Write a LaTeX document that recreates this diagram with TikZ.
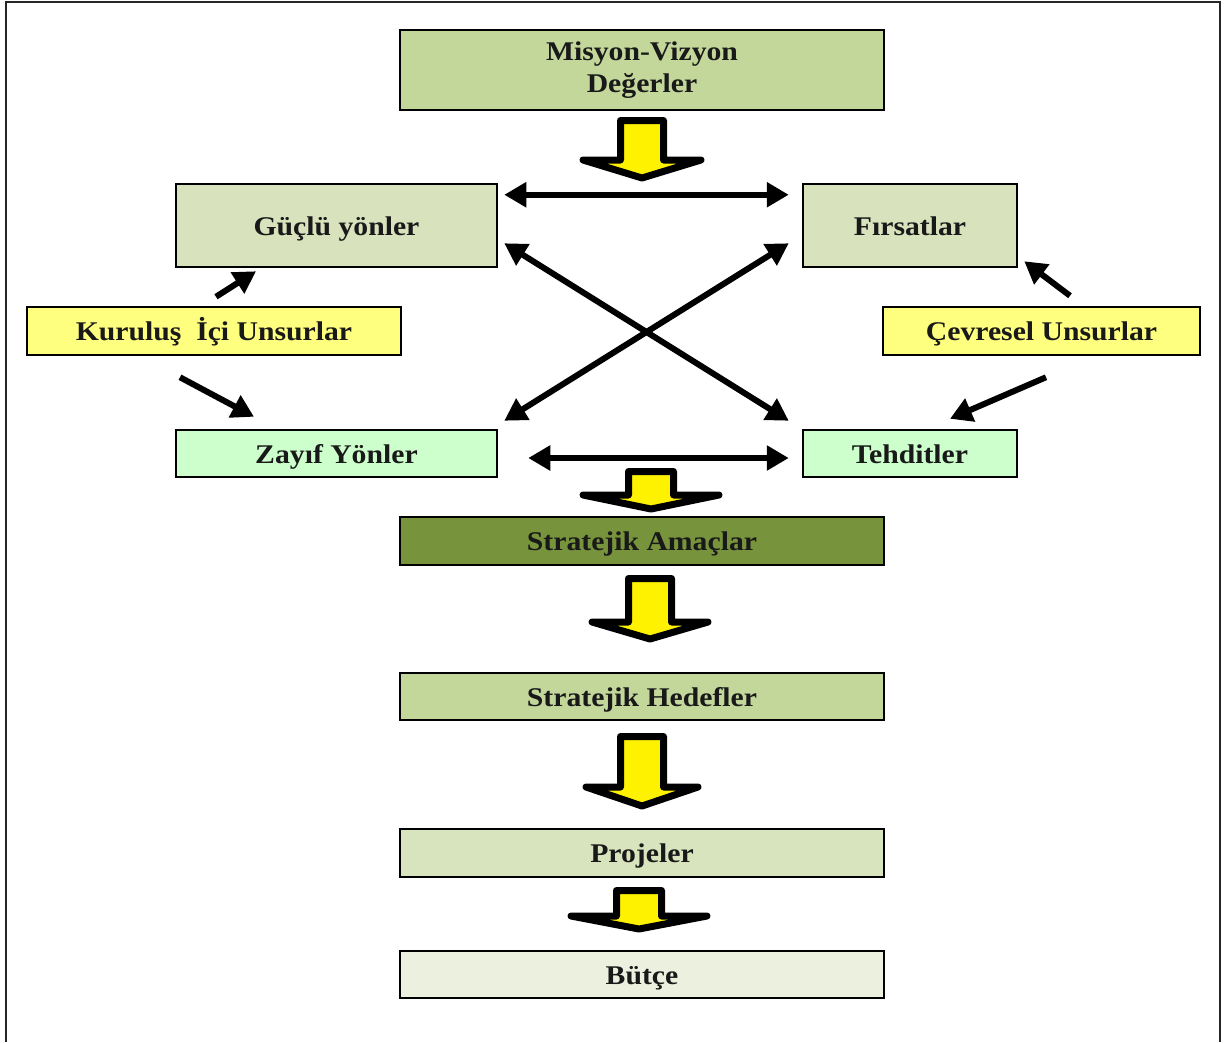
\documentclass[tikz,border=0pt]{standalone}
\usepackage{fontspec}
\setmainfont{Liberation Serif}[FakeStretch=1.1]
\usetikzlibrary{arrows.meta}
\definecolor{olivelt}{HTML}{C4D79B}
\definecolor{olivegray}{HTML}{D8E2BC}
\definecolor{olivedk}{HTML}{77933C}
\definecolor{projcol}{HTML}{D7E4BD}
\definecolor{butcol}{HTML}{EBF1DE}
\definecolor{yelbox}{HTML}{FFFF7F}
\definecolor{mint}{HTML}{CCFFCC}
\newcommand\blkdown[6]{\draw[blk] (#1-#3,#2) -- (#1+#3,#2) -- (#1+#3,#4) -- (#1+#5,#4) -- (#1,#6) -- (#1-#5,#4) -- (#1-#3,#4) -- cycle;}
\begin{document}
\begin{tikzpicture}[x=1pt,y=-1pt,
  box/.style={draw=black, line width=2.5pt, inner sep=0pt, align=center,
    font=\fontsize{27}{32}\selectfont\bfseries, text=black!90,
    text height=20pt, text depth=1pt},
  dbl/.style={line width=6pt, {Triangle[length=22pt,width=24pt]}-{Triangle[length=22pt,width=24pt]}},
  sgl/.style={line width=6pt, -{Triangle[length=22pt,width=24pt]}},
  blk/.style={draw=black, fill=yellow, line width=7pt, line join=round}]
\useasboundingbox (0,0) rectangle (1228,1042);
\draw[line width=2pt, draw=black!85] (6,1042) -- (6,2) -- (1220,2) -- (1220,1042);

\node[box, fill=olivelt, minimum width=484pt, minimum height=80pt, text height={}, text depth={}] (mv) at (642,70) {Misyon-Vizyon\\Değerler};
\node[box, fill=olivegray, minimum width=321pt, minimum height=83pt] (g) at (336.5,225.5) {Güçlü yönler};
\node[box, fill=olivegray, minimum width=214pt, minimum height=83pt] (f) at (910,225.5) {Fırsatlar};
\node[box, fill=yelbox, minimum width=374pt, minimum height=48pt] (k) at (214,331) {Kuruluş~ İçi Unsurlar};
\node[box, fill=yelbox, minimum width=317pt, minimum height=48pt] (c) at (1041.5,331) {Çevresel Unsurlar};
\node[box, fill=mint, minimum width=321pt, minimum height=47pt] (z) at (336.5,453.5) {Zayıf Yönler};
\node[box, fill=mint, minimum width=214pt, minimum height=47pt] (t) at (910,453.5) {Tehditler};
\node[box, fill=olivedk, minimum width=484pt, minimum height=48pt] (sa) at (642,541) {Stratejik Amaçlar};
\node[box, fill=olivelt, minimum width=484pt, minimum height=47pt] (sh) at (642,696.5) {Stratejik Hedefler};
\node[box, fill=projcol, minimum width=484pt, minimum height=48pt] (p) at (642,853) {Projeler};
\node[box, fill=butcol, minimum width=484pt, minimum height=47pt] (b) at (642,974.5) {Bütçe};

% block arrows
\blkdown{642}{120.5}{21.5}{160}{59}{178}
\blkdown{651}{471.5}{22.5}{495}{68}{509}
\blkdown{650}{578.5}{21.5}{622}{58}{639}
\blkdown{642}{736.5}{21.5}{787}{56}{806}
\blkdown{639}{890.5}{22.5}{916}{68}{929}

% SWOT connectors
\draw[dbl] ([xshift=6pt,yshift=-12pt]g.north east) -- ([xshift=-13pt,yshift=-12pt]f.north west);
\draw[dbl] ([xshift=6pt,yshift=25pt]g.south east) -- ([xshift=-13pt,yshift=8pt]t.north west);
\draw[dbl] ([xshift=-13pt,yshift=25pt]f.south west) -- ([xshift=6pt,yshift=8pt]z.north east);
\draw[dbl] ([xshift=30pt,yshift=-4.5pt]z.east) -- ([xshift=-13pt,yshift=-4.5pt]t.west);

% factor arrows
\draw[sgl] ([xshift=2pt,yshift=9pt]k.north) -- ([xshift=-80.5pt,yshift=-3pt]g.south);
\draw[sgl] ([xshift=-34pt,yshift=-21pt]k.south) -- ([xshift=-82.5pt,yshift=12pt]z.north);
\draw[sgl] ([xshift=28.5pt,yshift=10pt]c.north) -- ([xshift=6pt,yshift=7pt]f.south east);
\draw[sgl] ([xshift=4.5pt,yshift=-21pt]c.south) -- ([xshift=40pt,yshift=10pt]t.north);
\end{tikzpicture}
\end{document}
